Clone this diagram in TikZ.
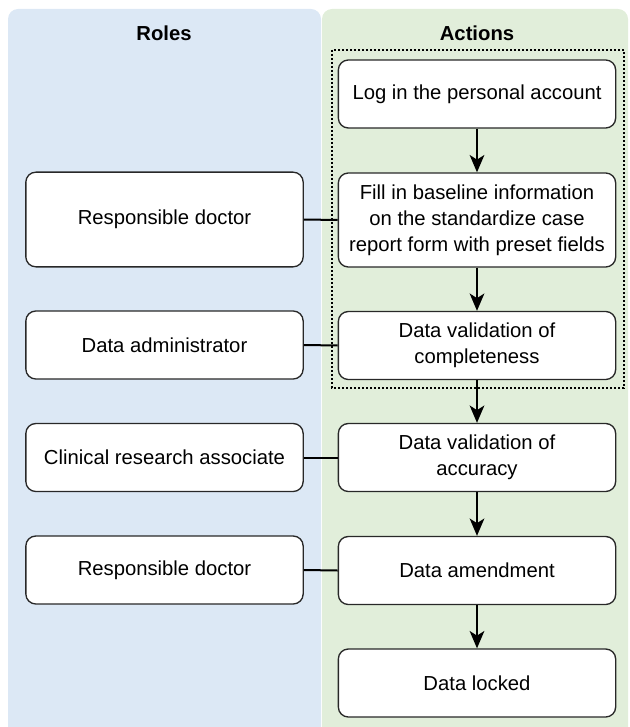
\documentclass[tikz,border=0pt]{standalone}
\usepackage{fontspec}
\setmainfont{Liberation Sans}
\usetikzlibrary{arrows.meta}
\definecolor{rolesbg}{RGB}{220,232,245}
\definecolor{actionsbg}{RGB}{225,238,218}
\definecolor{boxline}{RGB}{40,40,40}
\tikzset{
  stepbox/.style={draw=boxline, line width=1pt, fill=white, rounded corners=7.5pt,
    minimum width=208pt, minimum height=51pt, align=center, inner sep=2pt,
    font=\fontsize{15.2}{19.5}\selectfont},
  tallbox/.style={stepbox, minimum height=71pt},
  heading/.style={font=\fontsize{15.2}{18}\selectfont\bfseries},
  flow/.style={line width=1.5pt, -{Stealth[length=13pt,width=11pt,inset=3.5pt]}},
  link/.style={line width=1.5pt},
}
\begin{document}
\begin{tikzpicture}[x=0.75pt,y=0.75pt,yscale=-1,xscale=1]
\useasboundingbox (0,0) rectangle (629,727);

%Shape: Panels
\fill[rolesbg, rounded corners=7.5pt] (8,9) rectangle (321,750);
\fill[actionsbg, rounded corners=7.5pt] (322,9) rectangle (628,750);

% Text Node
\node[heading] (roles) at (164,33) {Roles};
% Text Node
\node[heading] (actions) at (477,33) {Actions};

%Shape: Dotted frame
\draw[line width=1.5pt, dash pattern=on 1.5pt off 1.5pt] (332,50) rectangle (624,388);

%Shape: Action boxes
\node[stepbox] (login) at (477,94) {Log in the personal account};
\node[stepbox, minimum height=70.5pt] (fill) at (477,220) {Fill in baseline information\\on the standardize case\\report form with preset fields};
\node[stepbox] (complete) at (477,345.5) {Data validation of\\completeness};
\node[stepbox] (accuracy) at (477,457.5) {Data validation of\\accuracy};
\node[stepbox] (amend) at (477,570.5) {Data amendment};
\node[stepbox] (locked) at (477,683) {Data locked};

%Shape: Role boxes
\node[tallbox] (doctor1) at (164.5,219.5) {Responsible doctor};
\node[stepbox] (admin) at (164.5,345) {Data administrator};
\node[stepbox] (cra) at (164.5,457.5) {Clinical research associate};
\node[stepbox] (doctor2) at (164.5,570) {Responsible doctor};

%Straight Lines
\draw[flow] (login) -- (fill);
\draw[flow] (fill) -- (complete);
\draw[flow] (complete) -- (accuracy);
\draw[flow] (accuracy) -- (amend);
\draw[flow] (amend) -- (locked);

\draw[link] (doctor1.east) -- (fill.west);
\draw[link] (admin.east) -- (complete.west);
\draw[link] (cra.east) -- (accuracy.west);
\draw[link] (doctor2.east) -- (amend.west);
\end{tikzpicture}
\end{document}
